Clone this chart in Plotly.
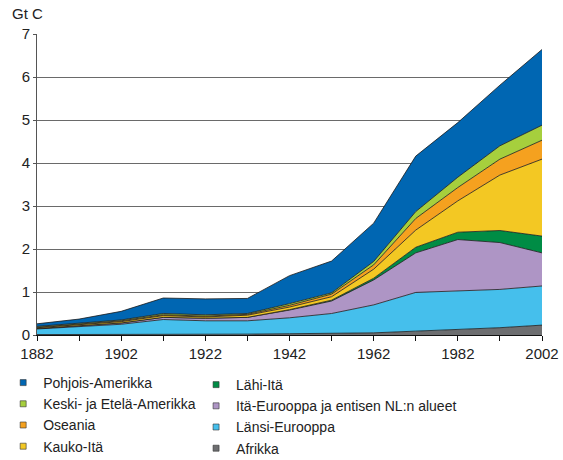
import plotly.graph_objects as go

years = [1882, 1892, 1902, 1912, 1922, 1932, 1942, 1952, 1962, 1972, 1982, 1992, 2002]

# stacked from bottom to top (Gt C)
afrikka = [0.01, 0.01, 0.01, 0.01, 0.01, 0.02, 0.03, 0.04, 0.05, 0.09, 0.13, 0.17, 0.23]
lansi_eurooppa = [0.13, 0.18, 0.24, 0.35, 0.32, 0.31, 0.37, 0.46, 0.65, 0.90, 0.89, 0.89, 0.91]
ita_eurooppa = [0.01, 0.02, 0.03, 0.05, 0.06, 0.08, 0.18, 0.29, 0.58, 0.92, 1.20, 1.09, 0.77]
lahi_ita = [0.0, 0.0, 0.0, 0.0, 0.0, 0.0, 0.01, 0.02, 0.04, 0.13, 0.17, 0.28, 0.39]
kauko_ita = [0.02, 0.03, 0.03, 0.04, 0.03, 0.05, 0.06, 0.08, 0.21, 0.40, 0.73, 1.29, 1.79]
oseania = [0.01, 0.02, 0.02, 0.02, 0.02, 0.02, 0.04, 0.06, 0.10, 0.27, 0.31, 0.37, 0.44]
keski_etela = [0.02, 0.02, 0.02, 0.03, 0.03, 0.02, 0.04, 0.03, 0.08, 0.16, 0.24, 0.31, 0.35]
pohjois = [0.06, 0.09, 0.20, 0.36, 0.37, 0.35, 0.65, 0.74, 0.89, 1.29, 1.27, 1.41, 1.76]

series = [
    ("Afrikka", afrikka, "#6d6e70"),
    ("Länsi-Eurooppa", lansi_eurooppa, "#45bfec"),
    ("Itä-Eurooppa ja entisen NL:n alueet", ita_eurooppa, "#ae95c5"),
    ("Lähi-Itä", lahi_ita, "#008c45"),
    ("Kauko-Itä", kauko_ita, "#f3c823"),
    ("Oseania", oseania, "#f5a11f"),
    ("Keski- ja Etelä-Amerikka", keski_etela, "#a6cf3d"),
    ("Pohjois-Amerikka", pohjois, "#0066b2"),
]

legend_col1 = ["Pohjois-Amerikka", "Keski- ja Etelä-Amerikka", "Oseania", "Kauko-Itä"]
legend_col2 = ["Lähi-Itä", "Itä-Eurooppa ja entisen NL:n alueet", "Länsi-Eurooppa", "Afrikka"]

x_tick_labels = [1882, 1902, 1922, 1942, 1962, 1982, 2002]

FONT = "Liberation Sans, Arial, sans-serif"
TXT = "#222222"

fig = go.Figure()
for name, vals, col in series:
    fig.add_trace(go.Scatter(
        x=years, y=vals, name=name, stackgroup="one", mode="lines",
        line=dict(color="#1a1a1a", width=0.8), fillcolor=col,
        showlegend=False, hoverinfo="x+y+name"))

colors = {n: c for n, _, c in series}
for legend_id, names in (("legend", legend_col1), ("legend2", legend_col2)):
    for rank, name in enumerate(names):
        fig.add_trace(go.Scatter(
            x=[None], y=[None], name=name, mode="markers",
            marker=dict(symbol="square", size=6, color=colors[name],
                        line=dict(color="#333333", width=0.6)),
            showlegend=True, legend=legend_id, legendrank=rank + 1))

legend_common = dict(orientation="v", traceorder="normal",
                     xref="paper", yref="paper", xanchor="left", yanchor="top",
                     font=dict(family=FONT, size=14, color=TXT),
                     bgcolor="rgba(0,0,0,0)", itemclick=False, tracegroupgap=0)

fig.update_layout(
    width=563, height=460,
    margin=dict(l=37, r=21, t=34, b=125, autoexpand=False),
    paper_bgcolor="white", plot_bgcolor="white",
    font=dict(family=FONT, size=14, color=TXT),
    showlegend=True,
    legend=dict(x=-0.067, y=-0.1063, **legend_common),
    legend2=dict(x=0.315, y=-0.113, **legend_common),
    annotations=[dict(text="Gt C", xref="paper", yref="paper", x=-0.018, y=1.033,
                      xanchor="center", yanchor="bottom", showarrow=False,
                      font=dict(family=FONT, size=15, color=TXT))],
)

fig.update_xaxes(
    range=[1882, 2002], tickmode="array", tickvals=x_tick_labels,
    ticktext=[str(v) for v in x_tick_labels],
    showgrid=False, zeroline=False, automargin=False,
    showline=True, linecolor="#111111", linewidth=1,
    ticks="outside", ticklen=5, tickcolor="#111111",
    minor=dict(tickmode="linear", tick0=1882, dtick=10, ticks="outside", ticklen=5,
               tickcolor="#111111", showgrid=False),
    tickfont=dict(family=FONT, size=15, color=TXT),
)
fig.update_yaxes(
    range=[0, 7], dtick=1, tick0=0, automargin=False,
    showgrid=True, gridcolor="#6a6a6a", gridwidth=1, zeroline=False,
    showline=True, linecolor="#555555", linewidth=1,
    ticks="outside", ticklen=3, tickcolor="#555555",
    tickfont=dict(family=FONT, size=15, color=TXT),
)

fig.write_html("out.html", config={"displayModeBar": False},
               post_script="document.body.style.margin='0';document.body.style.overflow='hidden';")
